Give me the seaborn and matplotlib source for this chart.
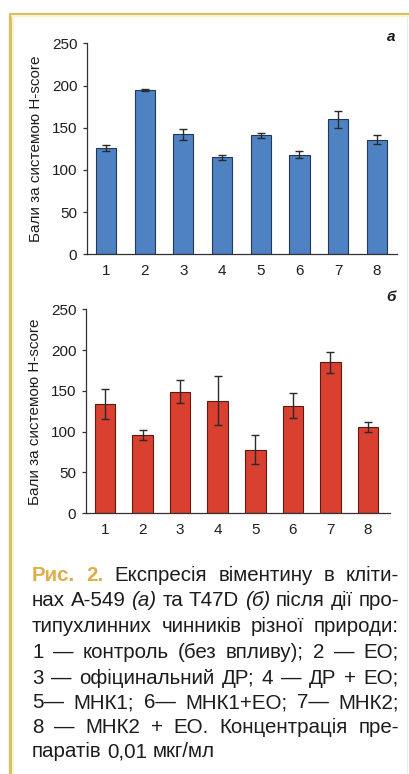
import matplotlib
matplotlib.use("Agg")
import matplotlib.pyplot as plt
from matplotlib import font_manager
from matplotlib.lines import Line2D
import seaborn as sns
import pandas as pd

# --- data -------------------------------------------------------------
groups = ["1", "2", "3", "4", "5", "6", "7", "8"]
a549_scores = [126, 195, 142, 115, 141, 118, 160, 136]
a549_err = [4, 1, 7, 3, 3, 4, 10, 5]
t47d_scores = [134, 96, 149, 138, 78, 132, 185, 106]
t47d_err = [18, 6, 14, 30, 18, 15, 13, 6]
y_ticks = [0, 50, 100, 150, 200, 250]
y_label = "Бали за системою H-score"
panel_letters = ["а", "б"]

caption_lines = [
    "Рис. 2. Експресія віментину в кліти-",
    "нах A-549 (а) та T47D (б) після дії про-",
    "типухлинних чинників різної природи:",
    "1 — контроль (без впливу); 2 — ЕО;",
    "3 — офіцинальний ДР; 4 — ДР + ЕО;",
    "5— МНК1; 6— МНК1+ЕО; 7— МНК2;",
    "8 — МНК2 + ЕО. Концентрація пре-",
    "паратів 0,01 мкг/мл",
]

# --- style ------------------------------------------------------------
sns.set_theme(style="white")
available = {f.name for f in font_manager.fontManager.ttflist}
narrow = "Liberation Sans Narrow" if "Liberation Sans Narrow" in available else "Liberation Sans"
plt.rcParams["font.family"] = ["Liberation Sans", "DejaVu Sans"]

W, H = 410, 774
fig = plt.figure(figsize=(W / 100, H / 100), dpi=100)
fig.patch.set_facecolor("white")


def px_axes(left, top, right, bottom):
    return fig.add_axes([left / W, 1 - bottom / H, (right - left) / W, (bottom - top) / H])


def draw_panel(ax, values, errs, color, edge, width, xlim, letter, letter_xy):
    df = pd.DataFrame({"group": groups, "score": values})
    sns.barplot(data=df, x="group", y="score", color=color, saturation=1,
                width=width, edgecolor=edge, linewidth=0.8, errorbar=None, ax=ax)
    ax.errorbar(range(len(groups)), values, yerr=errs, fmt="none",
                ecolor="#2a2a2a", elinewidth=1.0, capsize=2.6, capthick=1.0)
    ax.set_ylim(0, 250)
    ax.set_xlim(*xlim)
    ax.set_yticks(y_ticks)
    ax.set_yticklabels([str(v) for v in y_ticks], family=[narrow, "DejaVu Sans"],
                       fontsize=11, color="#1e1e1e")
    ax.set_xticks(range(len(groups)))
    ax.set_xticklabels(groups, family=[narrow, "DejaVu Sans"], fontsize=11, color="#1e1e1e")
    ax.tick_params(axis="y", length=3, width=0.9, color="#333333", pad=4, left=True)
    ax.tick_params(axis="x", length=0, pad=7)
    ax.set_xlabel("")
    ax.set_ylabel(y_label, family=[narrow, "DejaVu Sans"], fontsize=11,
                  color="#1e1e1e", labelpad=6)
    for side in ("top", "right"):
        ax.spines[side].set_visible(False)
    for side in ("left", "bottom"):
        ax.spines[side].set_color("#333333")
        ax.spines[side].set_linewidth(0.9)
    ax.set_facecolor("none")
    fig.text(letter_xy[0] / W, 1 - letter_xy[1] / H, letter, fontsize=11,
             style="italic", weight="bold", ha="center", va="center", color="#1a1a1a")


ax_a = px_axes(87, 43.3, 397, 254.3)
draw_panel(ax_a, a549_scores, a549_err, "#4f82c2", "#23375a", 0.52, (-0.49, 7.52),
           panel_letters[0], (391, 37))

ax_b = px_axes(86, 309.3, 390, 513.3)
draw_panel(ax_b, t47d_scores, t47d_err, "#d9402f", "#5e1a12", 0.55, (-0.505, 7.585),
           panel_letters[1], (391, 297))

# --- frame lines --------------------------------------------------------
frame = "#d6c068"
fig.add_artist(Line2D([9 / W, 1], [1 - 13.5 / H, 1 - 13.5 / H], color=frame, lw=2.4,
                      solid_capstyle="butt", transform=fig.transFigure))
fig.add_artist(Line2D([10.5 / W, 10.5 / W], [1 - 12.5 / H, 0], color=frame, lw=2.4,
                      solid_capstyle="butt", transform=fig.transFigure))
fig.add_artist(Line2D([12.5 / W, 1], [1 - 16 / H, 1 - 16 / H], color="#fbf2cf", lw=1.5,
                      transform=fig.transFigure))
fig.add_artist(Line2D([13 / W, 13 / W], [1 - 16 / H, 0], color="#fbf2cf", lw=1.5,
                      transform=fig.transFigure))
fig.add_artist(Line2D([407.5 / W, 407.5 / W], [1 - 16 / H, 0], color="#ececec", lw=0.8,
                      transform=fig.transFigure))

# --- justified caption -------------------------------------------------
renderer = fig.canvas.get_renderer()
left_px, right_px = 32, 399
baselines = [581, 606.5, 632, 658, 684, 708.5, 733, 757]
label_color = "#e0ae48"
text_color = "#1c1c1c"
base_size = 14.8
min_gap = 2.0


def word_width(word, size, weight="normal", style="normal"):
    t = fig.text(0, 0, word, fontsize=size, weight=weight, style=style)
    w = t.get_window_extent(renderer).width
    t.remove()
    return w


def word_style(i_line, word):
    if i_line == 0 and word in ("Рис.", "2."):
        return dict(color=label_color, weight="bold", style="normal")
    if word in ("(а)", "(б)"):
        return dict(color=text_color, weight="normal", style="italic")
    return dict(color=text_color, weight="normal", style="normal")


for i, line in enumerate(caption_lines):
    words = line.split(" ")
    styles = [word_style(i, w) for w in words]
    size = base_size
    # tighten an over-long line by stepping its type size down
    while True:
        widths = [word_width(w, size, s["weight"], s["style"]) for w, s in zip(words, styles)]
        if sum(widths) + min_gap * (len(words) - 1) <= right_px - left_px or size < 9:
            break
        size -= 0.1
    if i < len(caption_lines) - 1 and len(words) > 1:
        gap = (right_px - left_px - sum(widths)) / (len(words) - 1)
    else:
        gap = word_width("a a", size) - word_width("aa", size)
    x = left_px
    for w, s, wd in zip(words, styles, widths):
        fig.text(x / W, 1 - baselines[i] / H, w, fontsize=size, ha="left",
                 va="baseline", **s)
        x += wd + gap

fig.savefig("out.png", dpi=100)
